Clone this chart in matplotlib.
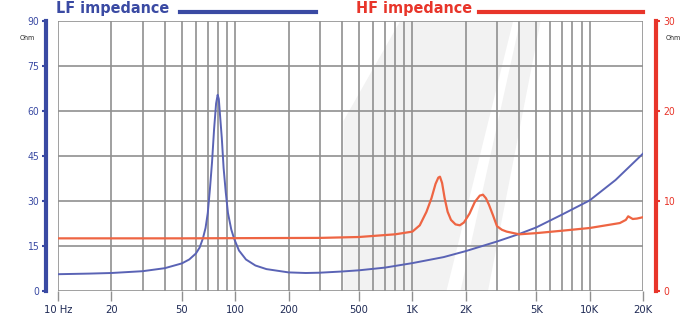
import matplotlib
matplotlib.use("Agg")
import matplotlib.pyplot as plt
from matplotlib.patches import Polygon
from matplotlib.lines import Line2D

plt.rcParams['font.family'] = ['DejaVu Sans']
plt.rcParams['font.stretch'] = 'condensed'

# LF impedance (left axis, Ohm)
lf_freq = [10, 15, 20, 30, 40, 50, 55, 60, 63, 65.7, 68, 70, 72, 74, 76, 78,
           79.6, 80.8, 82, 84, 86, 88.4, 91, 95, 98.5, 105, 115, 130, 150,
           200, 250, 300, 400, 500, 700, 1000, 1500, 2000, 3000, 4000, 5000,
           7000, 10000, 14000, 20000]
lf_ohm = [5.6, 5.8, 6.0, 6.6, 7.6, 9.2, 10.5, 12.5, 14.5, 17.5, 21, 26, 34,
          43, 54, 62.5, 65.4, 64, 59, 51, 41, 33, 26, 20.5, 17.5, 13.5, 10.5,
          8.5, 7.3, 6.2, 6.0, 6.1, 6.5, 6.9, 7.8, 9.3, 11.3, 13.3, 16.5, 19.0,
          21.2, 25.5, 30.2, 37.0, 45.8]

# HF impedance (right axis, Ohm)
hf_freq = [10, 50, 100, 300, 500, 800, 1000, 1100, 1200, 1280, 1350, 1400,
           1430, 1470, 1520, 1580, 1650, 1750, 1850, 1950, 2100, 2250, 2400,
           2500, 2600, 2700, 2850, 3000, 3200, 3400, 4000, 5000, 7000, 10000,
           14800, 16000, 16500, 17500, 18500, 20000]
hf_ohm = [5.85, 5.85, 5.87, 5.9, 6.0, 6.3, 6.6, 7.3, 8.8, 10.3, 11.9, 12.6,
          12.7, 12.0, 10.3, 8.8, 7.9, 7.4, 7.3, 7.6, 8.6, 9.9, 10.6,
          10.7, 10.3, 9.6, 8.4, 7.2, 6.8, 6.6, 6.3, 6.43, 6.7, 7.0,
          7.55, 7.9, 8.3, 8.0, 8.05, 8.2]

x_major = [10, 20, 50, 100, 200, 500, 1000, 2000, 5000, 10000, 20000]
x_labels = ['10 Hz', '20', '50', '100', '200', '500', '1K', '2K', '5K', '10K', '20K']
x_minor = [m * d for d in [10, 100, 1000, 10000] for m in range(1, 10)
           if m * d not in x_major and m * d <= 20000]
lf_ticks = [0, 15, 30, 45, 60, 75, 90]
hf_ticks = [0, 10, 20, 30]

blue = '#3a4aa3'
red = '#e8352a'
grid_c = '#909090'

fig = plt.figure(figsize=(6.87, 3.21), dpi=100)
ax = fig.add_axes([58 / 687, 30 / 321, 585 / 687, 270 / 321])

# faint watermark in the background
for pts in ([(0.488, 0), (0.488, 0.63), (0.585, 1), (0.778, 1), (0.664, 0)],
            [(0.688, 0), (0.790, 1), (0.825, 1), (0.735, 0)]):
    ax.add_patch(Polygon(pts, closed=True, transform=ax.transAxes,
                         facecolor='#f2f2f2', edgecolor='none', zorder=0))

ax.set_xscale('log')
ax.set_xlim(10, 20000)
ax.set_ylim(0, 90)
ax.set_xticks(x_major)
ax.set_xticklabels(x_labels)
ax.set_xticks(x_minor, minor=True)
ax.set_yticks(lf_ticks)
ax.grid(True, which='both', axis='x', color=grid_c, lw=1.2, zorder=1)
ax.grid(True, which='major', axis='y', color=grid_c, lw=1.2, zorder=1)
ax.set_axisbelow(True)
ax.tick_params(axis='x', which='major', length=7, width=1, color=grid_c,
               labelsize=8, labelcolor='#1f2a55', pad=3)
ax.tick_params(axis='x', which='minor', length=0)
ax.tick_params(axis='y', length=3, width=1.5, color=blue, labelcolor=blue,
               labelsize=7.5, pad=2)
for s in ['top', 'right', 'bottom']:
    ax.spines[s].set_visible(False)
ax.spines['left'].set_position(('outward', 8.6))
ax.spines['left'].set_color(blue)
ax.spines['left'].set_linewidth(3)

ax.plot(lf_freq, lf_ohm, color='#5a63b5', lw=1.4, zorder=3)

ax2 = ax.twinx()
ax2.set_ylim(0, 30)
ax2.set_yticks(hf_ticks)
ax2.plot(hf_freq, hf_ohm, color='#ee6543', lw=1.6, zorder=3)
for s in ['top', 'left', 'bottom']:
    ax2.spines[s].set_visible(False)
ax2.spines['right'].set_position(('outward', 9.4))
ax2.spines['right'].set_color(red)
ax2.spines['right'].set_linewidth(3)
ax2.tick_params(axis='y', length=3, width=1.5, color=red, labelcolor=red,
                labelsize=7.5, pad=2)

fig.text(20 / 687, 1 - 40 / 321, 'Ohm', fontsize=5, color='#222222', ha='left')
fig.text(666 / 687, 1 - 40 / 321, 'Ohm', fontsize=5, color='#222222', ha='left')

# header labels with line keys
fig.text(56 / 687, 1 - 9 / 321, 'LF impedance', fontsize=11.5, fontweight='bold',
         color=blue, va='center', ha='left')
fig.text(356 / 687, 1 - 9 / 321, 'HF impedance', fontsize=11.5, fontweight='bold',
         color=red, va='center', ha='left')
fig.add_artist(Line2D([180 / 687, 316 / 687], [1 - 12 / 321, 1 - 12 / 321],
                      color=blue, lw=3, transform=fig.transFigure))
fig.add_artist(Line2D([479 / 687, 643 / 687], [1 - 12 / 321, 1 - 12 / 321],
                      color=red, lw=3, transform=fig.transFigure))

fig.savefig('out.png', dpi=100)
